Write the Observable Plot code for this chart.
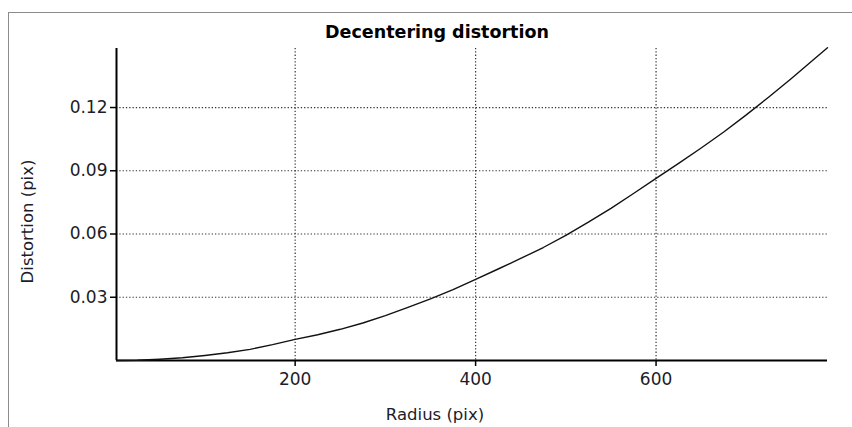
<!DOCTYPE html>
<html>
<head>
<meta charset="utf-8">
<script src="https://cdn.jsdelivr.net/npm/d3@7"></script>
<script src="https://cdn.jsdelivr.net/npm/@observablehq/plot@0.6"></script>
<style>
  html, body { margin: 0; padding: 0; background: #fff; }
  #wrap { position: relative; width: 852px; height: 427px; overflow: hidden; }
  #frame { position: absolute; left: 8px; top: 12px; right: -20px; bottom: -20px;
           border-left: 1.5px solid #8c8c8c; border-top: 1.5px solid #8c8c8c; pointer-events: none; }
  #wrap svg { position: absolute; left: 0; top: 0; }
</style>
</head>
<body>
<div id="wrap"><div id="frame"></div></div>
<script>
// Decentering distortion as a function of radius
const radius = [2, 25, 50, 75, 100, 125, 150, 175, 200, 225, 250, 275, 300, 325, 350, 375, 400,
                425, 450, 475, 500, 525, 550, 575, 600, 625, 650, 675, 700, 725, 750, 775, 790];
const distortion = [0.0000, 0.0001, 0.0006, 0.0013, 0.0024, 0.0037, 0.0053, 0.0075, 0.0100, 0.0122,
                    0.0148, 0.0178, 0.0213, 0.0252, 0.0292, 0.0336, 0.0385, 0.0434, 0.0484, 0.0536,
                    0.0594, 0.0656, 0.0722, 0.0792, 0.0864, 0.0935, 0.1008, 0.1084, 0.1165, 0.1250,
                    0.1338, 0.1429, 0.1484];
const xTicks = [200, 400, 600];
const yTicks = [0.03, 0.06, 0.09, 0.12];
const xDomain = [2, 790];
const yDomain = [0, 0.148];
const title = "Decentering distortion";
const xLabel = "Radius (pix)";
const yLabel = "Distortion (pix)";

const data = radius.map((r, i) => ({r, d: distortion[i]}));
const font = "'DejaVu Sans', Verdana, sans-serif";
const ink = "#1c1c2a";

const chart = Plot.plot({
  width: 852,
  height: 427,
  marginLeft: 116,
  marginRight: 25,
  marginTop: 48,
  marginBottom: 67,
  style: {fontFamily: font, fontSize: "17px", color: ink, background: "transparent"},
  x: {domain: xDomain},
  y: {domain: yDomain},
  marks: [
    // dotted grid
    Plot.ruleX(xTicks, {stroke: "#333", strokeWidth: 1.2, strokeDasharray: "1.3,2"}),
    Plot.ruleY(yTicks, {stroke: "#333", strokeWidth: 1.2, strokeDasharray: "1.3,2"}),
    // axes
    Plot.axisX({ticks: xTicks, tickSize: 6, tickPadding: 6, label: null, tickFormat: d => String(d), stroke: "#000", strokeWidth: 1.5, fontSize: 17}),
    Plot.axisY({ticks: yTicks, tickSize: 6, tickPadding: 3, label: null, tickFormat: d3.format(".2f"), stroke: "#000", strokeWidth: 1.5, fontSize: 17}),
    Plot.ruleX([xDomain[0]], {stroke: "#000", strokeWidth: 2}),
    Plot.ruleY([yDomain[0]], {stroke: "#000", strokeWidth: 2}),
    // curve
    Plot.line(data, {x: "r", y: "d", stroke: "#111", strokeWidth: 1.4}),
    // titles
    Plot.text([title], {text: d => d, frameAnchor: "top", textAnchor: "middle", lineAnchor: "middle", dx: -35, dy: -16, fontWeight: "bold", fontSize: 17.5, fill: "#000"}),
    Plot.text([xLabel], {text: d => d, frameAnchor: "bottom", textAnchor: "middle", lineAnchor: "middle", dx: -37, dy: 54, fontSize: 16.5, fill: ink}),
    Plot.text([yLabel], {text: d => d, frameAnchor: "left", textAnchor: "middle", lineAnchor: "middle", rotate: -90, dx: -89, dy: 17, fontSize: 16.5, fill: ink})
  ]
});
document.getElementById("wrap").prepend(chart);
</script>
</body>
</html>
